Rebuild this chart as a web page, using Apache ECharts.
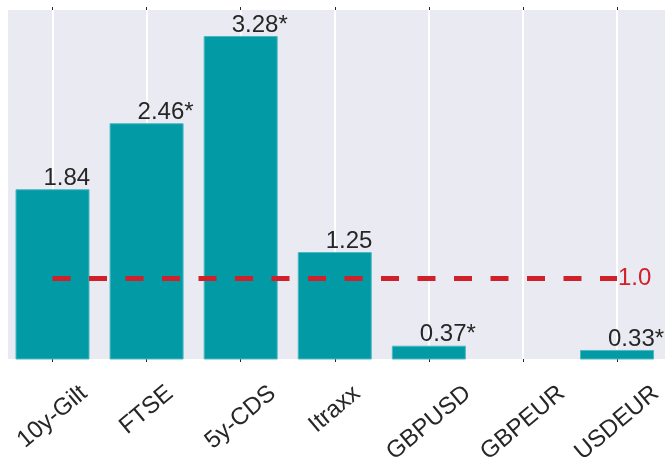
<!DOCTYPE html>
<html>
<head>
<meta charset="utf-8">
<script src="https://cdn.jsdelivr.net/npm/echarts@6/dist/echarts.min.js"></script>
<style>
html,body{margin:0;padding:0;background:#fff;}
#c{width:665px;height:457px;}
</style>
</head>
<body>
<div id="c"></div>
<script>
const categories = ['10y-Gilt', 'FTSE', '5y-CDS', 'Itraxx', 'GBPUSD', 'GBPEUR', 'USDEUR'];
const values = [1.84, 2.46, 3.28, 1.25, 0.37, null, 0.33];
const valueLabels = ['1.84', '2.46*', '3.28*', '1.25', '0.37*', '', '0.33*'];
const threshold = 1.0;
const thresholdLabel = '1.0';

const positions = categories.map((c, i) => i);
const font = "'Liberation Sans', Arial, sans-serif";
const textColor = '#262626';
const labelSize = 24;
const labelRotate = 40;
const xMin = -0.473, xMax = 6.51;

// rotated tick labels: keep the top of each rotated label at the same height (matplotlib ha='center' look)
const measureCtx = document.createElement('canvas').getContext('2d');
measureCtx.font = labelSize + "px 'Liberation Sans', Arial, sans-serif";
const rad = labelRotate * Math.PI / 180;
const labelAxes = categories.map((name, i) => {
  const w = measureCtx.measureText(name).width;
  const margin = 24 + (w / 2) * Math.sin(rad) + 0.4 * labelSize * Math.cos(rad);
  return {
    type: 'value', position: 'bottom', min: xMin, max: xMax,
    axisLine: {show: false}, axisTick: {show: false}, splitLine: {show: false},
    axisLabel: {
      customValues: [i],
      formatter: () => name,
      rotate: labelRotate, align: 'center', verticalAlign: 'middle',
      margin: margin, fontSize: labelSize, fontFamily: font, color: textColor
    }
  };
});

const chart = echarts.init(document.getElementById('c'), null, {renderer: 'canvas'});
chart.setOption({
  animation: false,
  backgroundColor: '#ffffff',
  grid: {left: 8, right: 0, top: 10, bottom: 98, show: true, backgroundColor: '#eaeaf2', borderWidth: 0,
         containLabel: false, outerBoundsMode: 'none'},
  xAxis: [{
    type: 'value',
    position: 'bottom',
    min: xMin,
    max: xMax,
    axisLine: {show: false},
    axisTick: {show: true, length: 3, inside: false, customValues: positions, lineStyle: {color: textColor, width: 1}},
    splitLine: {show: true, lineStyle: {color: '#ffffff', width: 2}},
    axisLabel: {show: false}
  }, {
    type: 'value',
    position: 'top',
    min: xMin,
    max: xMax,
    axisLine: {show: false},
    axisTick: {show: true, length: 3, customValues: positions, lineStyle: {color: textColor, width: 1}},
    splitLine: {show: false},
    axisLabel: {show: false}
  }].concat(labelAxes),
  yAxis: {
    type: 'value',
    min: 0.245,
    max: 3.524,
    show: false,
    splitLine: {show: false}
  },
  series: [{
    type: 'bar',
    xAxisIndex: 0,
    barWidth: 74,
    data: values.map((v, i) => [i, v === null ? '-' : v]),
    itemStyle: {color: '#019aa5', borderColor: '#4cb9c1', borderWidth: 1},
    label: {
      show: true,
      position: 'top',
      distance: -1,
      align: 'left',
      offset: [-9, 0],
      fontSize: 24,
      fontFamily: font,
      color: textColor,
      formatter: p => valueLabels[p.dataIndex]
    },
    markLine: {
      silent: true,
      symbol: 'none',
      animation: false,
      lineStyle: {color: '#d0202a', width: 5, type: [18, 18.5]},
      label: {
        show: true,
        position: 'end',
        distance: 1,
        formatter: thresholdLabel,
        fontSize: 24,
        fontFamily: font,
        color: '#d0202a'
      },
      data: [[{coord: [0, threshold]}, {coord: [categories.length - 1, threshold]}]]
    }
  }]
});
</script>
</body>
</html>
